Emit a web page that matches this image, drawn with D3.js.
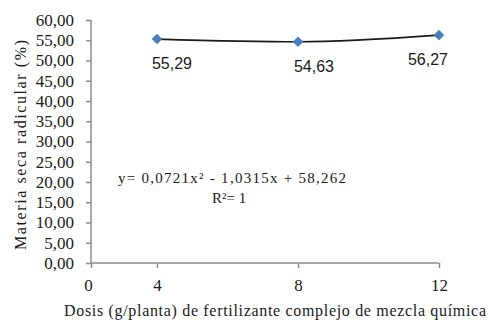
<!DOCTYPE html>
<html>
<head>
<meta charset="utf-8">
<script src="https://cdn.jsdelivr.net/npm/d3@7"></script>
<style>
  body { margin: 0; background: #fff; }
  text { font-family: "Liberation Serif", "Times New Roman", serif; fill: #1a1a1a; }
</style>
</head>
<body>
<svg id="chart" width="488" height="322"></svg>
<script>
// data
var dosis = [4, 8, 12];
var materiaSeca = [55.29, 54.63, 56.27];
var xTicks = [0, 4, 8, 12];
var yTicks = [0, 5, 10, 15, 20, 25, 30, 35, 40, 45, 50, 55, 60];
var ecuacion = "y= 0,0721x\u00b2 - 1,0315x + 58,262";
var rCuadrado = "R\u00b2= 1";

var points = dosis.map(function(d, i) { return {x: d, y: materiaSeca[i]}; });

var svg = d3.select("#chart");

// the original x axis is not evenly spaced between 0 and 4
var x = d3.scaleLinear().domain([0, 4, 12]).range([91, 157, 439]);
var y = d3.scaleLinear().domain([0, 60]).range([263, 20]);

var fmt = function(v) { return d3.format(".2f")(v).replace(".", ","); };

// y axis
var yAxis = svg.append("g")
    .attr("transform", "translate(" + x(0) + ",0)")
    .call(d3.axisLeft(y).tickValues(yTicks).tickSize(5).tickPadding(12).tickFormat(fmt));
yAxis.selectAll("path, line").attr("stroke", "#8c8c8c").attr("stroke-width", 1.5);
yAxis.select(".domain").attr("d", "M0," + y(60) + "V" + y(0));
yAxis.selectAll("text")
    .style("font-family", "'Liberation Serif', serif")
    .style("font-size", "17px")
    .attr("fill", "#1a1a1a");

// x axis
var xAxis = svg.append("g")
    .attr("transform", "translate(0," + y(0) + ")")
    .call(d3.axisBottom(x).tickValues(xTicks).tickSize(5).tickPadding(11).tickFormat(d3.format("d")));
xAxis.selectAll("path, line").attr("stroke", "#8c8c8c").attr("stroke-width", 1.5);
xAxis.select(".domain").attr("d", "M" + x(0) + ",0H" + x(12));
xAxis.selectAll("text")
    .style("font-family", "'Liberation Serif', serif")
    .style("font-size", "17px")
    .attr("fill", "#1a1a1a");
xAxis.selectAll(".tick").filter(function(d) { return d === 0; }).select("text").attr("dx", -3);

// line through the points
var line = d3.line()
    .x(function(d) { return x(d.x); })
    .y(function(d) { return y(d.y); })
    .curve(d3.curveMonotoneX);

svg.append("path")
    .datum(points)
    .attr("d", line)
    .attr("fill", "none")
    .attr("stroke", "#1a1a1a")
    .attr("stroke-width", 1.6);

// diamond markers
svg.selectAll(".marker")
    .data(points)
    .enter().append("path")
    .attr("class", "marker")
    .attr("d", d3.symbol(d3.symbolSquare).size(56))
    .attr("transform", function(d) { return "translate(" + x(d.x) + "," + y(d.y) + ") rotate(45)"; })
    .attr("fill", "#4a7ebb");

// data labels
var labelDx = [15, 16, -11];
svg.selectAll(".dlabel")
    .data(points)
    .enter().append("text")
    .attr("class", "dlabel")
    .attr("x", function(d, i) { return x(d.x) + labelDx[i]; })
    .attr("y", function(d) { return y(d.y) + 30; })
    .attr("text-anchor", "middle")
    .style("font-family", "'Liberation Sans Narrow', 'Liberation Sans', sans-serif")
    .style("font-size", "16px")
    .text(function(d) { return fmt(d.y); });

// equation
svg.append("text")
    .attr("x", 118)
    .attr("y", 183)
    .style("font-size", "15px")
    .attr("textLength", 228)
    .text(ecuacion);
svg.append("text")
    .attr("x", 212)
    .attr("y", 203)
    .style("font-size", "15px")
    .text(rCuadrado);

// axis titles
svg.append("text")
    .attr("transform", "translate(26,145) rotate(-90)")
    .attr("text-anchor", "middle")
    .style("font-size", "16px")
    .attr("textLength", 210)
    .text("Materia seca radicular (%)");

svg.append("text")
    .attr("x", 64)
    .attr("y", 316)
    .style("font-size", "16px")
    .attr("textLength", 422)
    .text("Dosis (g/planta) de fertilizante complejo de mezcla qu\u00edmica");
</script>
</body>
</html>
